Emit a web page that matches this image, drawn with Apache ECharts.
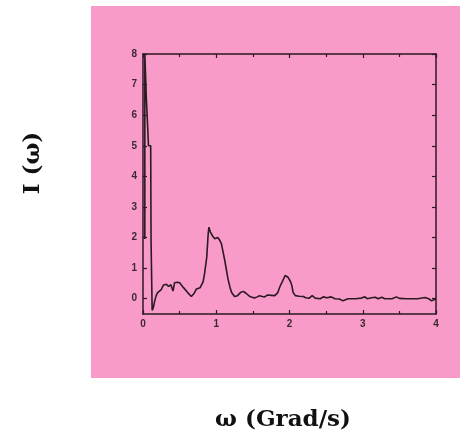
<!DOCTYPE html>
<html>
<head>
<meta charset="utf-8">
<script src="https://cdn.jsdelivr.net/npm/echarts@6/dist/echarts.min.js"></script>
<style>
  html, body { margin: 0; padding: 0; background: #ffffff; }
  #chart { width: 460px; height: 436px; }
</style>
</head>
<body>
<div id="chart"></div>
<script>
// Spectrum I(ω) versus ω in Grad/s
var omega = [
  0.025, 0.025, 0.04, 0.045, 0.07, 0.075, 0.105, 0.11, 0.12, 0.125,
  0.14, 0.16, 0.18, 0.20, 0.25, 0.28, 0.32, 0.35, 0.38, 0.41,
  0.43, 0.47, 0.50, 0.55, 0.61, 0.66, 0.70, 0.73, 0.78, 0.80,
  0.82, 0.84, 0.87, 0.89, 0.90, 0.92, 0.95, 0.98, 1.02, 1.05,
  1.07, 1.10, 1.12, 1.16, 1.19, 1.21, 1.25, 1.29, 1.33, 1.37,
  1.41, 1.46, 1.52, 1.56, 1.59, 1.63, 1.66, 1.70, 1.75, 1.80,
  1.84, 1.87, 1.91, 1.94, 1.98, 2.01, 2.03, 2.05, 2.08, 2.13,
  2.19, 2.22, 2.27, 2.31, 2.35, 2.42, 2.46, 2.51, 2.57, 2.62,
  2.68, 2.73, 2.80, 2.90, 2.98, 3.00, 3.03, 3.06, 3.12, 3.17,
  3.21, 3.26, 3.30, 3.40, 3.46, 3.50, 3.60, 3.75, 3.85, 3.90,
  3.94, 4.00
];
var intensity = [
  1.95, 8.00, 8.00, 6.60, 6.60, 5.00, 5.00, 1.90, 1.85, -0.38,
  -0.30, -0.07, 0.10, 0.20, 0.30, 0.45, 0.47, 0.40, 0.46, 0.25,
  0.52, 0.54, 0.52, 0.37, 0.20, 0.07, 0.18, 0.32, 0.36, 0.40,
  0.55, 0.81, 1.35, 2.12, 2.34, 2.18, 2.05, 1.96, 2.00, 1.90,
  1.80, 1.45, 1.20, 0.65, 0.35, 0.20, 0.07, 0.10, 0.20, 0.24,
  0.17, 0.07, 0.02, 0.06, 0.10, 0.07, 0.06, 0.12, 0.11, 0.10,
  0.20, 0.40, 0.60, 0.76, 0.70, 0.58, 0.45, 0.20, 0.10, 0.08,
  0.07, 0.03, 0.02, 0.10, 0.02, 0.00, 0.06, 0.03, 0.06, 0.00,
  -0.01, -0.07, 0.00, 0.00, 0.02, 0.08, 0.06, 0.00, 0.03, 0.05,
  0.00, 0.05, 0.00, 0.00, 0.06, 0.01, 0.00, 0.00, 0.04, 0.00,
  -0.07, 0.00
];
var xTicks = [0, 1, 2, 3, 4];
var yTicks = [0, 1, 2, 3, 4, 5, 6, 7, 8];

var ink = '#2a1a22';
var pink = '#f99bc9';

var points = omega.map(function (w, i) { return [w, intensity[i]]; });

var chart = echarts.init(document.getElementById('chart'), null, { renderer: 'canvas' });

var tickFont = {
  color: '#3a2a30',
  fontFamily: 'Liberation Sans',
  fontWeight: 'bold',
  fontSize: 10
};

chart.setOption({
  animation: false,
  backgroundColor: '#ffffff',
  graphic: [
    {
      type: 'rect', z: -10, silent: true,
      shape: { x: 91, y: 6, width: 369, height: 372 },
      style: { fill: pink }
    },
    {
      type: 'text', z: 10,
      x: 33, y: 163, rotation: Math.PI / 2,
      style: {
        text: 'I (ω)', fill: '#111', font: 'bold 23px "DejaVu Serif"',
        align: 'center', verticalAlign: 'middle'
      }
    },
    {
      type: 'text', z: 10,
      x: 283, y: 420,
      style: {
        text: 'ω (Grad/s)', fill: '#111', font: 'bold 23px "DejaVu Serif"',
        align: 'center', verticalAlign: 'middle'
      }
    }
  ],
  grid: { left: 143, right: 24, top: 54, bottom: 122, containLabel: false },
  xAxis: [
    {
      type: 'value', min: 0, max: 4, interval: 1, position: 'bottom',
      axisLine: { show: true, onZero: false, lineStyle: { color: ink, width: 1.5 } },
      axisTick: { show: true, inside: true, length: 4, lineStyle: { color: ink, width: 1.2 } },
      minorTick: { show: true, splitNumber: 2, length: 3, lineStyle: { color: ink, width: 1.2 } },
      axisLabel: Object.assign({ margin: 5, customValues: xTicks }, tickFont),
      splitLine: { show: false }
    },
    {
      type: 'value', min: 0, max: 4, interval: 1, position: 'top',
      axisLine: { show: true, onZero: false, lineStyle: { color: ink, width: 1.5 } },
      axisTick: { show: true, inside: true, length: 4, lineStyle: { color: ink, width: 1.2 } },
      minorTick: { show: true, splitNumber: 2, length: 3, lineStyle: { color: ink, width: 1.2 } },
      axisLabel: { show: false },
      splitLine: { show: false }
    }
  ],
  yAxis: [
    {
      type: 'value', min: -0.5, max: 8, position: 'left',
      axisLine: { show: true, onZero: false, lineStyle: { color: ink, width: 1.5 } },
      axisTick: { show: true, inside: true, length: 4, customValues: yTicks, lineStyle: { color: ink, width: 1.2 } },
      axisLabel: Object.assign({ margin: 6, customValues: yTicks }, tickFont),
      splitLine: { show: false }
    },
    {
      type: 'value', min: -0.5, max: 8, position: 'right',
      axisLine: { show: true, onZero: false, lineStyle: { color: ink, width: 1.5 } },
      axisTick: { show: true, inside: true, length: 4, customValues: yTicks, lineStyle: { color: ink, width: 1.2 } },
      axisLabel: { show: false },
      splitLine: { show: false }
    }
  ],
  series: [
    {
      type: 'line',
      xAxisIndex: 0, yAxisIndex: 0,
      data: points,
      showSymbol: false,
      clip: true,
      lineStyle: { color: ink, width: 1.6 }
    }
  ]
});
</script>
</body>
</html>
